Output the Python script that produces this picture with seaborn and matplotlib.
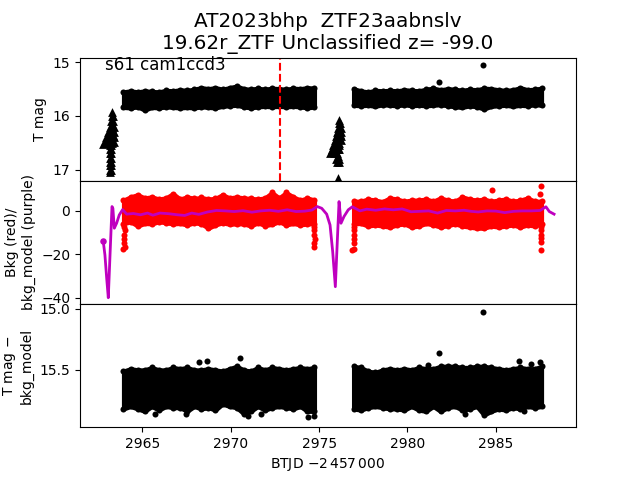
import matplotlib
matplotlib.use("Agg")
import matplotlib.pyplot as plt
import seaborn as sns

# observing days of the two orbits, shared by the band envelopes
days_a = [2963.94, 2964.34, 2964.74, 2965.14, 2965.54, 2965.94, 2966.34, 2966.74, 2967.14, 2967.54,
          2967.94, 2968.34, 2968.74, 2969.14, 2969.54, 2969.94, 2970.34, 2970.74, 2971.14, 2971.54,
          2971.94, 2972.34, 2972.74, 2973.14, 2973.54, 2973.94, 2974.34, 2974.74]
days_b = [2976.95, 2977.36, 2977.77, 2978.18, 2978.59, 2979.00, 2979.41, 2979.82, 2980.23, 2980.64,
          2981.05, 2981.46, 2981.87, 2982.28, 2982.69, 2983.10, 2983.51, 2983.92, 2984.33, 2984.74,
          2985.15, 2985.56, 2985.97, 2986.38, 2986.79, 2987.20, 2987.58]

# T mag band
mag_hi_a = [15.55, 15.53, 15.55, 15.53, 15.54, 15.55, 15.52, 15.53, 15.51, 15.52, 15.50, 15.47, 15.49, 15.47,
            15.50, 15.47, 15.44, 15.49, 15.50, 15.48, 15.50, 15.48, 15.49, 15.50, 15.48, 15.49, 15.47, 15.48]
mag_lo_a = [15.84, 15.85, 15.83, 15.89, 15.84, 15.85, 15.83, 15.84, 15.85, 15.84, 15.85, 15.83, 15.84, 15.85,
            15.82, 15.81, 15.80, 15.83, 15.85, 15.83, 15.82, 15.83, 15.82, 15.83, 15.82, 15.83, 15.85, 15.83]
mag_hi_b = [15.49, 15.53, 15.55, 15.52, 15.53, 15.52, 15.53, 15.51, 15.52, 15.53, 15.50, 15.48, 15.51, 15.49,
            15.50, 15.52, 15.50, 15.51, 15.48, 15.49, 15.51, 15.52, 15.51, 15.47, 15.51, 15.50, 15.48]
mag_lo_b = [15.80, 15.81, 15.80, 15.82, 15.79, 15.80, 15.81, 15.79, 15.81, 15.80, 15.81, 15.80, 15.79, 15.81,
            15.83, 15.84, 15.81, 15.83, 15.87, 15.82, 15.81, 15.80, 15.82, 15.80, 15.81, 15.79, 15.80]
mag_out_x = [2981.80, 2984.29]
mag_out_y = [15.36, 15.04]

# upper limits before each orbit
lim_x = [2963.30, 2963.27, 2963.33, 2963.22, 2963.36, 2963.15, 2963.38, 2963.05, 2963.40, 2963.25,
         2962.95, 2963.42, 2963.20, 2962.80, 2963.42, 2963.10, 2962.88, 2963.30, 2963.00, 2963.32,
         2963.28, 2963.18, 2963.12, 2963.30, 2963.08, 2963.22, 2962.92, 2963.04, 2963.16, 2963.34,
         2963.15, 2963.25, 2963.15, 2963.25, 2963.15, 2963.25, 2963.15, 2963.25, 2963.15, 2963.25,
         2963.15, 2963.25, 2963.15, 2963.25, 2963.20,
         2976.15, 2976.10, 2976.20, 2976.05, 2976.25, 2976.00, 2976.26, 2975.95, 2976.26, 2975.90,
         2976.22, 2975.80, 2976.15, 2975.72, 2976.10, 2975.62, 2975.85, 2976.00,
         2976.12, 2976.16, 2976.06, 2976.10, 2976.00, 2975.92, 2975.84, 2976.05,
         2976.05, 2975.95, 2976.12, 2976.00, 2976.10, 2976.09]
lim_y = [15.93, 16.00, 16.00, 16.10, 16.10, 16.20, 16.20, 16.30, 16.30, 16.30,
         16.40, 16.40, 16.40, 16.52, 16.48, 16.50, 16.46, 16.50, 16.42, 16.35,
         16.15, 16.25, 16.35, 16.22, 16.42, 16.46, 16.50, 16.48, 16.45, 16.28,
         16.55, 16.55, 16.62, 16.62, 16.70, 16.70, 16.78, 16.78, 16.85, 16.85,
         16.92, 16.92, 17.00, 17.00, 17.05,
         16.08, 16.14, 16.14, 16.22, 16.22, 16.30, 16.30, 16.38, 16.38, 16.45,
         16.45, 16.55, 16.55, 16.62, 16.62, 16.70, 16.70, 16.70,
         16.26, 16.34, 16.42, 16.50, 16.50, 16.58, 16.64, 16.62,
         16.74, 16.80, 16.80, 16.86, 16.86, 17.15]

# background
bkg_hi_a = [5.0, 6.5, 7.5, 6.0, 6.5, 5.5, 6.0, 8.0, 5.5, 6.5, 5.8, 6.2, 5.5, 5.8,
            7.5, 6.0, 6.5, 6.0, 5.8, 5.5, 6.0, 8.5, 6.0, 8.5, 6.5, 5.0, 6.0, 5.0]
bkg_lo_a = [-6.0, -5.0, -7.0, -5.8, -6.0, -5.0, -5.5, -6.0, -5.8, -6.5, -5.5, -6.0, -8.0, -6.5,
            -5.5, -6.2, -6.0, -6.0, -7.0, -5.5, -6.8, -6.2, -5.0, -6.5, -5.8, -6.5, -6.0, -6.0]
bkg_hi_b = [4.5, 4.5, 5.5, 5.0, 4.3, 6.0, 5.5, 4.5, 5.0, 5.0, 5.5, 4.5, 6.0, 5.0,
            4.5, 6.5, 5.5, 5.0, 5.5, 4.5, 5.0, 5.5, 4.5, 5.0, 6.0, 4.5, 4.5]
bkg_lo_b = [-6.0, -5.8, -7.0, -6.5, -7.0, -7.5, -6.5, -6.0, -7.5, -7.0, -5.8, -6.5, -7.5, -6.8,
            -6.0, -7.0, -7.5, -8.0, -8.0, -7.0, -7.5, -7.0, -6.5, -7.5, -6.5, -7.0, -6.0]
bkg_edge_x = [2963.93, 2964.00, 2963.96, 2963.95, 2963.98, 2964.00, 2963.97,
              2974.73, 2974.73, 2974.75, 2974.74, 2974.72, 2974.74,
              2976.88, 2976.98, 2976.95, 2976.96, 2977.00, 2977.00, 2976.98,
              2987.57, 2987.57, 2987.55, 2987.56, 2987.55, 2987.57, 2987.57, 2987.49, 2984.80]
bkg_edge_y = [-17.6, -16.5, -15.0, -13.0, -11.0, -9.0, -7.5,
              -16.8, -15.0, -13.0, -11.0, -9.0, -7.5,
              -18.2, -17.5, -15.0, -13.0, -11.0, -9.0, -7.5,
              -18.2, -14.2, -12.5, -11.0, -9.0, -7.5, 11.4, 7.7, 9.6]

# background model curve
model_x = [2962.79, 2962.89, 2962.99, 2963.08, 2963.17, 2963.29, 2963.34, 2963.42, 2963.55, 2963.70, 2963.89,
           2964.12, 2964.50, 2964.90, 2965.30, 2965.60, 2966.00, 2966.50, 2967.00, 2967.40, 2967.80, 2968.20,
           2968.70, 2969.20, 2969.70, 2970.20, 2970.70, 2971.20, 2971.70, 2972.20, 2972.70, 2973.20, 2973.70,
           2974.20, 2974.60, 2974.90, 2975.15, 2975.43, 2975.62, 2975.77, 2975.92, 2976.03, 2976.13, 2976.18,
           2976.24, 2976.41, 2976.65, 2976.88, 2977.31, 2977.70, 2978.20, 2978.70, 2979.20, 2979.70, 2980.20,
           2980.70, 2981.20, 2981.70, 2982.20, 2982.70, 2983.20, 2983.60, 2984.00, 2984.50, 2985.00, 2985.50,
           2986.00, 2986.50, 2987.00, 2987.50, 2987.83, 2988.02, 2988.29]
model_y = [-13.7, -20.4, -31.2, -40.1, -21.9, 2.0, 1.2, -8.0, -5.7, -1.9, 0.6,
           -1.5, -1.2, -1.8, -1.0, -2.0, -1.0, -1.3, -1.8, -2.1, -1.0, -1.6,
           -0.5, 0.2, 0.0, -0.3, 0.1, -0.6, 0.0, 0.3, -0.2, 0.5, -0.3,
           -0.1, 0.4, 2.0, 1.2, -1.5, -6.5, -18.8, -35.0, -14.2, 4.3, 0.0,
           -5.7, -2.6, 0.5, 1.9, 0.0, 0.8, 0.3, 0.9, 0.5, 0.9, -0.4,
           -0.2, 0.0, -1.0, 0.2, 0.0, 0.3, -0.2, -0.5, 0.0, -0.1, -0.8,
           -0.2, 0.0, 0.0, 0.2, 1.9, -0.3, -1.5]

# detrended magnitude band
det_hi_a = [15.51, 15.49, 15.50, 15.50, 15.48, 15.50, 15.50, 15.48, 15.49, 15.48, 15.50, 15.50, 15.49, 15.50,
            15.51, 15.49, 15.47, 15.50, 15.51, 15.48, 15.50, 15.48, 15.49, 15.50, 15.49, 15.48, 15.49, 15.48]
det_lo_a = [15.82, 15.80, 15.82, 15.84, 15.80, 15.83, 15.80, 15.81, 15.81, 15.84, 15.80, 15.82, 15.81, 15.83,
            15.78, 15.80, 15.81, 15.86, 15.84, 15.80, 15.83, 15.81, 15.80, 15.81, 15.82, 15.80, 15.84, 15.84]
det_hi_b = [15.47, 15.48, 15.51, 15.52, 15.50, 15.49, 15.50, 15.49, 15.50, 15.48, 15.49, 15.49, 15.47, 15.47,
            15.47, 15.48, 15.48, 15.47, 15.47, 15.48, 15.49, 15.50, 15.49, 15.48, 15.49, 15.49, 15.47]
det_lo_b = [15.82, 15.83, 15.81, 15.80, 15.81, 15.82, 15.82, 15.83, 15.80, 15.83, 15.84, 15.80, 15.84, 15.81,
            15.80, 15.83, 15.82, 15.80, 15.87, 15.84, 15.82, 15.83, 15.81, 15.82, 15.80, 15.81, 15.80]
det_out_x = [2970.53, 2968.22, 2968.66, 2984.29, 2981.80, 2986.32, 2986.98, 2987.49, 2981.14, 2983.27, 2986.60,
             2974.40, 2974.70, 2971.00, 2971.70, 2967.50, 2965.70]
det_out_y = [15.404, 15.437, 15.430, 15.027, 15.363, 15.426, 15.450, 15.434, 15.462, 15.863, 15.840,
             15.883, 15.875, 15.880, 15.865, 15.865, 15.865]

peak_day = 2972.78
POINT = 19


def draw_band(ax, days, hi, lo, color):
    # the outline stands in for the radius of the overlapping points
    ax.fill_between(days, hi, lo, color=color, lw=3.0, joinstyle="round")
    sns.scatterplot(x=days, y=hi, color=color, s=POINT, linewidth=0, ax=ax)
    sns.scatterplot(x=days, y=lo, color=color, s=POINT, linewidth=0, ax=ax)


fig, (ax1, ax2, ax3) = plt.subplots(3, 1, sharex=True, figsize=(6.4, 4.8), dpi=100)
fig.subplots_adjust(hspace=0)

draw_band(ax1, days_a, mag_hi_a, mag_lo_a, "k")
draw_band(ax1, days_b, mag_hi_b, mag_lo_b, "k")
sns.scatterplot(x=mag_out_x, y=mag_out_y, color="k", s=POINT, linewidth=0, ax=ax1)
sns.scatterplot(x=lim_x, y=lim_y, color="k", marker="^", s=40, linewidth=0, ax=ax1)
ax1.axvline(peak_day, color="r", ls="--", lw=1.5)
ax1.set_ylim(17.21, 14.91)
ax1.set_yticks([15, 16, 17])
ax1.set_ylabel("T mag")
ax1.text(2962.9, 15.15, "s61 cam1ccd3", fontsize=12)
ax1.tick_params(bottom=False)

draw_band(ax2, days_a, bkg_hi_a, bkg_lo_a, "r")
draw_band(ax2, days_b, bkg_hi_b, bkg_lo_b, "r")
sns.scatterplot(x=bkg_edge_x, y=bkg_edge_y, color="r", s=POINT, linewidth=0, ax=ax2)
sns.lineplot(x=model_x, y=model_y, color="m", lw=2.0, sort=False, estimator=None, ax=ax2)
sns.scatterplot(x=model_x[:1], y=model_y[:1], color="m", s=22, linewidth=0, ax=ax2)
ax2.set_ylim(-43, 13.9)
ax2.set_yticks([0, -20, -40])
ax2.set_ylabel("Bkg (red)/\nbkg_model (purple)")
ax2.tick_params(bottom=False)

draw_band(ax3, days_a, det_hi_a, det_lo_a, "k")
draw_band(ax3, days_b, det_hi_b, det_lo_b, "k")
sns.scatterplot(x=det_out_x, y=det_out_y, color="k", s=POINT, linewidth=0, ax=ax3)
ax3.set_ylim(15.97, 14.96)
ax3.set_yticks([15.0, 15.5])
ax3.set_ylabel("T mag $-$\nbkg_model")
ax3.set_xlim(2961.48, 2989.53)
ax3.set_xticks([2965, 2970, 2975, 2980, 2985])
ax3.set_xlabel(r"BTJD $- 2\,457\,000$")

ax1.set_title("AT2023bhp  ZTF23aabnslv\n19.62r_ZTF Unclassified z= -99.0", fontsize=14.4)

fig.savefig("out.png", dpi=100)
